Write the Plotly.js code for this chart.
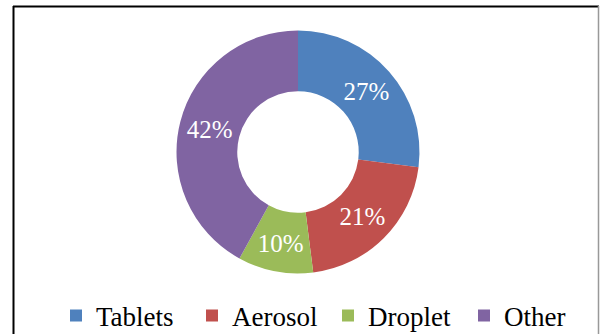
<!DOCTYPE html>
<html>
<head>
<meta charset="utf-8">
<script src="https://cdn.plot.ly/plotly-3.0.1.min.js"></script>
<style>html,body{margin:0;padding:0;background:#fff;}#chart{width:600px;height:334px;}</style>
</head>
<body>
<div id="chart"></div>
<script>
var categories = ["Tablets", "Aerosol", "Droplet", "Other"];
var shares = [27, 21, 10, 42];
var sliceColors = ["#4F81BD", "#C0504D", "#9BBB59", "#8064A2"];

var serif = "'Liberation Serif', 'Times New Roman', serif";

var trace = {
  type: "pie",
  labels: categories,
  values: shares,
  sort: false,
  direction: "clockwise",
  rotation: 0,
  hole: 0.5,
  marker: {colors: sliceColors, line: {width: 0}},
  texttemplate: "%{value}%",
  textposition: "inside",
  insidetextorientation: "horizontal",
  textfont: {family: serif, size: 25, color: "#ffffff"},
  domain: {x: [176.5/600, 419.5/600], y: [1 - 273.5/334, 1 - 30.5/334]},
  hoverinfo: "label+percent"
};

var layout = {
  width: 600,
  height: 334,
  margin: {l: 0, r: 0, t: 0, b: 0, autoexpand: false},
  paper_bgcolor: "#ffffff",
  font: {family: serif},
  showlegend: true,
  legend: {
    orientation: "h",
    x: 1, xanchor: "right",
    y: 1 - 316/334, yanchor: "middle",
    font: {family: serif, size: 27, color: "#000000"},
    entrywidth: 91, entrywidthmode: "pixels",
    bgcolor: "rgba(0,0,0,0)"
  },
  shapes: [
    {type: "line", xref: "paper", yref: "paper", x0: 13/600, x1: 599/600, y0: 1 - 6.5/334, y1: 1 - 6.5/334, line: {color: "#000000", width: 2}},
    {type: "line", xref: "paper", yref: "paper", x0: 13.5/600, x1: 13.5/600, y0: 0, y1: 1 - 6/334, line: {color: "#000000", width: 2}},
    {type: "line", xref: "paper", yref: "paper", x0: 598.5/600, x1: 598.5/600, y0: 0, y1: 1 - 6/334, line: {color: "#999999", width: 1.5}}
  ]
};

Plotly.newPlot("chart", [trace], layout, {displayModeBar: false, staticPlot: true});
</script>
</body>
</html>
